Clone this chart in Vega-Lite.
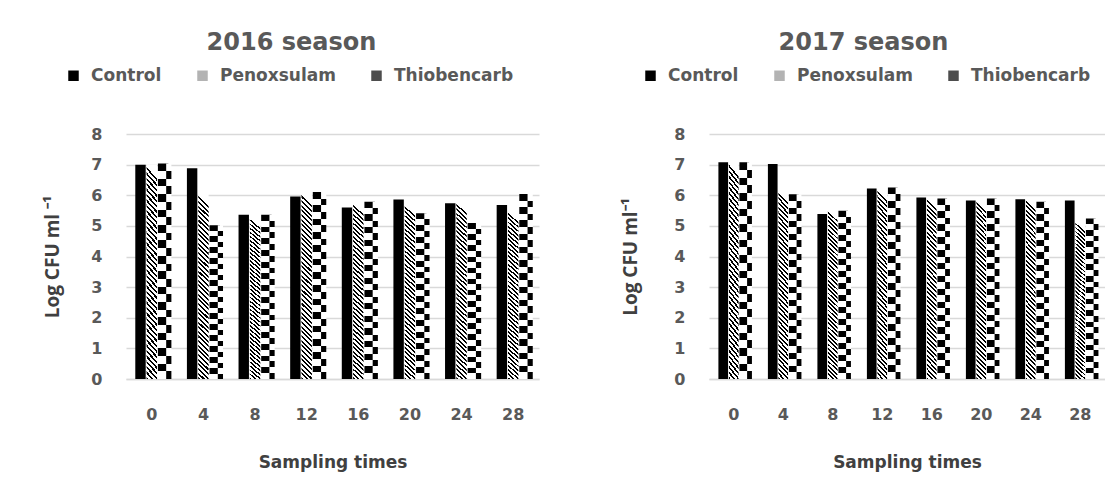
{
  "$schema": "https://vega.github.io/schema/vega-lite/v6.json",
  "padding": {"left": 43, "top": 31, "right": 0, "bottom": 12},
  "background": "white",
  "datasets": {
    "d": [
      {"season": 2016, "time": 0, "treatment": "Control", "value": 7.0},
      {"season": 2016, "time": 0, "treatment": "Penoxsulam", "value": 7.0},
      {"season": 2016, "time": 0, "treatment": "Thiobencarb", "value": 7.04},
      {"season": 2016, "time": 4, "treatment": "Control", "value": 6.88},
      {"season": 2016, "time": 4, "treatment": "Penoxsulam", "value": 6.04},
      {"season": 2016, "time": 4, "treatment": "Thiobencarb", "value": 5.02},
      {"season": 2016, "time": 8, "treatment": "Control", "value": 5.36},
      {"season": 2016, "time": 8, "treatment": "Penoxsulam", "value": 5.28},
      {"season": 2016, "time": 8, "treatment": "Thiobencarb", "value": 5.36},
      {"season": 2016, "time": 12, "treatment": "Control", "value": 5.96},
      {"season": 2016, "time": 12, "treatment": "Penoxsulam", "value": 6.06},
      {"season": 2016, "time": 12, "treatment": "Thiobencarb", "value": 6.11},
      {"season": 2016, "time": 16, "treatment": "Control", "value": 5.6},
      {"season": 2016, "time": 16, "treatment": "Penoxsulam", "value": 5.76},
      {"season": 2016, "time": 16, "treatment": "Thiobencarb", "value": 5.79},
      {"season": 2016, "time": 20, "treatment": "Control", "value": 5.86},
      {"season": 2016, "time": 20, "treatment": "Penoxsulam", "value": 5.71},
      {"season": 2016, "time": 20, "treatment": "Thiobencarb", "value": 5.41},
      {"season": 2016, "time": 24, "treatment": "Control", "value": 5.74},
      {"season": 2016, "time": 24, "treatment": "Penoxsulam", "value": 5.79},
      {"season": 2016, "time": 24, "treatment": "Thiobencarb", "value": 5.09},
      {"season": 2016, "time": 28, "treatment": "Control", "value": 5.68},
      {"season": 2016, "time": 28, "treatment": "Penoxsulam", "value": 5.49},
      {"season": 2016, "time": 28, "treatment": "Thiobencarb", "value": 6.04},
      {"season": 2017, "time": 0, "treatment": "Control", "value": 7.08},
      {"season": 2017, "time": 0, "treatment": "Penoxsulam", "value": 7.08},
      {"season": 2017, "time": 0, "treatment": "Thiobencarb", "value": 7.08},
      {"season": 2017, "time": 4, "treatment": "Control", "value": 7.02},
      {"season": 2017, "time": 4, "treatment": "Penoxsulam", "value": 6.16},
      {"season": 2017, "time": 4, "treatment": "Thiobencarb", "value": 6.03},
      {"season": 2017, "time": 8, "treatment": "Control", "value": 5.39},
      {"season": 2017, "time": 8, "treatment": "Penoxsulam", "value": 5.54},
      {"season": 2017, "time": 8, "treatment": "Thiobencarb", "value": 5.49},
      {"season": 2017, "time": 12, "treatment": "Control", "value": 6.22},
      {"season": 2017, "time": 12, "treatment": "Penoxsulam", "value": 6.22},
      {"season": 2017, "time": 12, "treatment": "Thiobencarb", "value": 6.25},
      {"season": 2017, "time": 16, "treatment": "Control", "value": 5.93},
      {"season": 2017, "time": 16, "treatment": "Penoxsulam", "value": 5.93},
      {"season": 2017, "time": 16, "treatment": "Thiobencarb", "value": 5.89},
      {"season": 2017, "time": 20, "treatment": "Control", "value": 5.83},
      {"season": 2017, "time": 20, "treatment": "Penoxsulam", "value": 5.85},
      {"season": 2017, "time": 20, "treatment": "Thiobencarb", "value": 5.89},
      {"season": 2017, "time": 24, "treatment": "Control", "value": 5.87},
      {"season": 2017, "time": 24, "treatment": "Penoxsulam", "value": 5.91},
      {"season": 2017, "time": 24, "treatment": "Thiobencarb", "value": 5.79},
      {"season": 2017, "time": 28, "treatment": "Control", "value": 5.83},
      {"season": 2017, "time": 28, "treatment": "Penoxsulam", "value": 5.16},
      {"season": 2017, "time": 28, "treatment": "Thiobencarb", "value": 5.24}
    ]
  },
  "spacing": 82,
  "resolve": {
    "scale": {"x": "independent", "y": "independent", "xOffset": "independent", "color": "independent"},
    "legend": {"color": "independent"}
  },
  "hconcat": [
    {
      "width": 413,
      "height": 245,
      "title": {"text": "2016 season", "frame": "bounds", "anchor": "middle", "offset": 12},
      "data": {"name": "d"},
      "transform": [{"filter": "datum.season === 2016"}],
      "encoding": {
        "x": {"field": "time", "type": "ordinal", "scale": {"paddingInner": 0.36, "paddingOuter": 0.18}, "axis": {"title": "Sampling times"}},
        "xOffset": {"field": "treatment", "type": "nominal", "scale": {"domain": ["Control", "Penoxsulam", "Thiobencarb"], "paddingInner": 0.08, "paddingOuter": 0}},
        "y": {"field": "value", "type": "quantitative", "scale": {"domain": [0, 8]}, "axis": {"title": "Log CFU  ml ⁻¹", "values": [0, 1, 2, 3, 4, 5, 6, 7, 8], "titlePadding": 28}}
      },
      "layer": [
        {
          "mark": {"type": "square", "opacity": 0},
          "encoding": {
            "color": {"field": "treatment", "type": "nominal", "scale": {"domain": ["Control", "Penoxsulam", "Thiobencarb"], "range": ["#000000", "#b3b3b3", "#4d4d4d"]},
              "legend": {"title": null, "orient": "none", "direction": "horizontal", "legendX": -61, "legendY": -67, "symbolOpacity": 1, "symbolType": "square", "symbolSize": 110, "columnPadding": 32, "labelOffset": 9}}
          }
        },
        {
          "mark": {"type": "bar"},
          "encoding": {
            "fill": {
              "condition": [
                {"test": "datum.treatment === 'Penoxsulam'", "value": {"gradient": "linear", "x1": 0.055, "y1": 0, "x2": 0, "y2": 1, "stops": [
                  {"offset": 0, "color": "#fff"}, {"offset": 0.014, "color": "#fff"}, {"offset": 0.014, "color": "#000"}, {"offset": 0.025, "color": "#000"},
                  {"offset": 0.025, "color": "#fff"}, {"offset": 0.039, "color": "#fff"}, {"offset": 0.039, "color": "#000"}, {"offset": 0.05, "color": "#000"},
                  {"offset": 0.05, "color": "#fff"}, {"offset": 0.064, "color": "#fff"}, {"offset": 0.064, "color": "#000"}, {"offset": 0.075, "color": "#000"},
                  {"offset": 0.075, "color": "#fff"}, {"offset": 0.089, "color": "#fff"}, {"offset": 0.089, "color": "#000"}, {"offset": 0.1, "color": "#000"},
                  {"offset": 0.1, "color": "#fff"}, {"offset": 0.114, "color": "#fff"}, {"offset": 0.114, "color": "#000"}, {"offset": 0.125, "color": "#000"},
                  {"offset": 0.125, "color": "#fff"}, {"offset": 0.139, "color": "#fff"}, {"offset": 0.139, "color": "#000"}, {"offset": 0.15, "color": "#000"},
                  {"offset": 0.15, "color": "#fff"}, {"offset": 0.164, "color": "#fff"}, {"offset": 0.164, "color": "#000"}, {"offset": 0.175, "color": "#000"},
                  {"offset": 0.175, "color": "#fff"}, {"offset": 0.189, "color": "#fff"}, {"offset": 0.189, "color": "#000"}, {"offset": 0.2, "color": "#000"},
                  {"offset": 0.2, "color": "#fff"}, {"offset": 0.214, "color": "#fff"}, {"offset": 0.214, "color": "#000"}, {"offset": 0.225, "color": "#000"},
                  {"offset": 0.225, "color": "#fff"}, {"offset": 0.239, "color": "#fff"}, {"offset": 0.239, "color": "#000"}, {"offset": 0.25, "color": "#000"},
                  {"offset": 0.25, "color": "#fff"}, {"offset": 0.264, "color": "#fff"}, {"offset": 0.264, "color": "#000"}, {"offset": 0.275, "color": "#000"},
                  {"offset": 0.275, "color": "#fff"}, {"offset": 0.289, "color": "#fff"}, {"offset": 0.289, "color": "#000"}, {"offset": 0.3, "color": "#000"},
                  {"offset": 0.3, "color": "#fff"}, {"offset": 0.314, "color": "#fff"}, {"offset": 0.314, "color": "#000"}, {"offset": 0.325, "color": "#000"},
                  {"offset": 0.325, "color": "#fff"}, {"offset": 0.339, "color": "#fff"}, {"offset": 0.339, "color": "#000"}, {"offset": 0.35, "color": "#000"},
                  {"offset": 0.35, "color": "#fff"}, {"offset": 0.364, "color": "#fff"}, {"offset": 0.364, "color": "#000"}, {"offset": 0.375, "color": "#000"},
                  {"offset": 0.375, "color": "#fff"}, {"offset": 0.389, "color": "#fff"}, {"offset": 0.389, "color": "#000"}, {"offset": 0.4, "color": "#000"},
                  {"offset": 0.4, "color": "#fff"}, {"offset": 0.414, "color": "#fff"}, {"offset": 0.414, "color": "#000"}, {"offset": 0.425, "color": "#000"},
                  {"offset": 0.425, "color": "#fff"}, {"offset": 0.439, "color": "#fff"}, {"offset": 0.439, "color": "#000"}, {"offset": 0.45, "color": "#000"},
                  {"offset": 0.45, "color": "#fff"}, {"offset": 0.464, "color": "#fff"}, {"offset": 0.464, "color": "#000"}, {"offset": 0.475, "color": "#000"},
                  {"offset": 0.475, "color": "#fff"}, {"offset": 0.489, "color": "#fff"}, {"offset": 0.489, "color": "#000"}, {"offset": 0.5, "color": "#000"},
                  {"offset": 0.5, "color": "#fff"}, {"offset": 0.514, "color": "#fff"}, {"offset": 0.514, "color": "#000"}, {"offset": 0.525, "color": "#000"},
                  {"offset": 0.525, "color": "#fff"}, {"offset": 0.539, "color": "#fff"}, {"offset": 0.539, "color": "#000"}, {"offset": 0.55, "color": "#000"},
                  {"offset": 0.55, "color": "#fff"}, {"offset": 0.564, "color": "#fff"}, {"offset": 0.564, "color": "#000"}, {"offset": 0.575, "color": "#000"},
                  {"offset": 0.575, "color": "#fff"}, {"offset": 0.589, "color": "#fff"}, {"offset": 0.589, "color": "#000"}, {"offset": 0.6, "color": "#000"},
                  {"offset": 0.6, "color": "#fff"}, {"offset": 0.614, "color": "#fff"}, {"offset": 0.614, "color": "#000"}, {"offset": 0.625, "color": "#000"},
                  {"offset": 0.625, "color": "#fff"}, {"offset": 0.639, "color": "#fff"}, {"offset": 0.639, "color": "#000"}, {"offset": 0.65, "color": "#000"},
                  {"offset": 0.65, "color": "#fff"}, {"offset": 0.664, "color": "#fff"}, {"offset": 0.664, "color": "#000"}, {"offset": 0.675, "color": "#000"},
                  {"offset": 0.675, "color": "#fff"}, {"offset": 0.689, "color": "#fff"}, {"offset": 0.689, "color": "#000"}, {"offset": 0.7, "color": "#000"},
                  {"offset": 0.7, "color": "#fff"}, {"offset": 0.714, "color": "#fff"}, {"offset": 0.714, "color": "#000"}, {"offset": 0.725, "color": "#000"},
                  {"offset": 0.725, "color": "#fff"}, {"offset": 0.739, "color": "#fff"}, {"offset": 0.739, "color": "#000"}, {"offset": 0.75, "color": "#000"},
                  {"offset": 0.75, "color": "#fff"}, {"offset": 0.764, "color": "#fff"}, {"offset": 0.764, "color": "#000"}, {"offset": 0.775, "color": "#000"},
                  {"offset": 0.775, "color": "#fff"}, {"offset": 0.789, "color": "#fff"}, {"offset": 0.789, "color": "#000"}, {"offset": 0.8, "color": "#000"},
                  {"offset": 0.8, "color": "#fff"}, {"offset": 0.814, "color": "#fff"}, {"offset": 0.814, "color": "#000"}, {"offset": 0.825, "color": "#000"},
                  {"offset": 0.825, "color": "#fff"}, {"offset": 0.839, "color": "#fff"}, {"offset": 0.839, "color": "#000"}, {"offset": 0.85, "color": "#000"},
                  {"offset": 0.85, "color": "#fff"}, {"offset": 0.864, "color": "#fff"}, {"offset": 0.864, "color": "#000"}, {"offset": 0.875, "color": "#000"},
                  {"offset": 0.875, "color": "#fff"}, {"offset": 0.889, "color": "#fff"}, {"offset": 0.889, "color": "#000"}, {"offset": 0.9, "color": "#000"},
                  {"offset": 0.9, "color": "#fff"}, {"offset": 0.914, "color": "#fff"}, {"offset": 0.914, "color": "#000"}, {"offset": 0.925, "color": "#000"},
                  {"offset": 0.925, "color": "#fff"}, {"offset": 0.939, "color": "#fff"}, {"offset": 0.939, "color": "#000"}, {"offset": 0.95, "color": "#000"},
                  {"offset": 0.95, "color": "#fff"}, {"offset": 0.964, "color": "#fff"}, {"offset": 0.964, "color": "#000"}, {"offset": 0.975, "color": "#000"},
                  {"offset": 0.975, "color": "#fff"}, {"offset": 0.989, "color": "#fff"}, {"offset": 0.989, "color": "#000"}, {"offset": 1, "color": "#000"}
                ]}},
                {"test": "datum.treatment === 'Thiobencarb'", "value": {"gradient": "linear", "x1": 0, "y1": 0, "x2": 0, "y2": 1, "stops": [
                  {"offset": 0, "color": "#000"}, {"offset": 0.0357, "color": "#000"}, {"offset": 0.0357, "color": "#fff"}, {"offset": 0.0714, "color": "#fff"},
                  {"offset": 0.0714, "color": "#000"}, {"offset": 0.1071, "color": "#000"}, {"offset": 0.1071, "color": "#fff"}, {"offset": 0.1429, "color": "#fff"},
                  {"offset": 0.1429, "color": "#000"}, {"offset": 0.1786, "color": "#000"}, {"offset": 0.1786, "color": "#fff"}, {"offset": 0.2143, "color": "#fff"},
                  {"offset": 0.2143, "color": "#000"}, {"offset": 0.25, "color": "#000"}, {"offset": 0.25, "color": "#fff"}, {"offset": 0.2857, "color": "#fff"},
                  {"offset": 0.2857, "color": "#000"}, {"offset": 0.3214, "color": "#000"}, {"offset": 0.3214, "color": "#fff"}, {"offset": 0.3571, "color": "#fff"},
                  {"offset": 0.3571, "color": "#000"}, {"offset": 0.3929, "color": "#000"}, {"offset": 0.3929, "color": "#fff"}, {"offset": 0.4286, "color": "#fff"},
                  {"offset": 0.4286, "color": "#000"}, {"offset": 0.4643, "color": "#000"}, {"offset": 0.4643, "color": "#fff"}, {"offset": 0.5, "color": "#fff"},
                  {"offset": 0.5, "color": "#000"}, {"offset": 0.5357, "color": "#000"}, {"offset": 0.5357, "color": "#fff"}, {"offset": 0.5714, "color": "#fff"},
                  {"offset": 0.5714, "color": "#000"}, {"offset": 0.6071, "color": "#000"}, {"offset": 0.6071, "color": "#fff"}, {"offset": 0.6429, "color": "#fff"},
                  {"offset": 0.6429, "color": "#000"}, {"offset": 0.6786, "color": "#000"}, {"offset": 0.6786, "color": "#fff"}, {"offset": 0.7143, "color": "#fff"},
                  {"offset": 0.7143, "color": "#000"}, {"offset": 0.75, "color": "#000"}, {"offset": 0.75, "color": "#fff"}, {"offset": 0.7857, "color": "#fff"},
                  {"offset": 0.7857, "color": "#000"}, {"offset": 0.8214, "color": "#000"}, {"offset": 0.8214, "color": "#fff"}, {"offset": 0.8571, "color": "#fff"},
                  {"offset": 0.8571, "color": "#000"}, {"offset": 0.8929, "color": "#000"}, {"offset": 0.8929, "color": "#fff"}, {"offset": 0.9286, "color": "#fff"},
                  {"offset": 0.9286, "color": "#000"}, {"offset": 0.9643, "color": "#000"}, {"offset": 0.9643, "color": "#fff"}, {"offset": 1, "color": "#fff"}
                ]}}
              ],
              "value": "#000000"
            }
          }
        },
        {
          "transform": [{"filter": "datum.treatment === 'Thiobencarb'"}],
          "mark": {"type": "bar", "width": {"band": 0.5}, "xOffset": 2.6},
          "encoding": {
            "fill": {"value": {"gradient": "linear", "x1": 0, "y1": 0, "x2": 0, "y2": 1, "stops": [
              {"offset": 0, "color": "#fff"}, {"offset": 0.0357, "color": "#fff"}, {"offset": 0.0357, "color": "#000"}, {"offset": 0.0714, "color": "#000"},
              {"offset": 0.0714, "color": "#fff"}, {"offset": 0.1071, "color": "#fff"}, {"offset": 0.1071, "color": "#000"}, {"offset": 0.1429, "color": "#000"},
              {"offset": 0.1429, "color": "#fff"}, {"offset": 0.1786, "color": "#fff"}, {"offset": 0.1786, "color": "#000"}, {"offset": 0.2143, "color": "#000"},
              {"offset": 0.2143, "color": "#fff"}, {"offset": 0.25, "color": "#fff"}, {"offset": 0.25, "color": "#000"}, {"offset": 0.2857, "color": "#000"},
              {"offset": 0.2857, "color": "#fff"}, {"offset": 0.3214, "color": "#fff"}, {"offset": 0.3214, "color": "#000"}, {"offset": 0.3571, "color": "#000"},
              {"offset": 0.3571, "color": "#fff"}, {"offset": 0.3929, "color": "#fff"}, {"offset": 0.3929, "color": "#000"}, {"offset": 0.4286, "color": "#000"},
              {"offset": 0.4286, "color": "#fff"}, {"offset": 0.4643, "color": "#fff"}, {"offset": 0.4643, "color": "#000"}, {"offset": 0.5, "color": "#000"},
              {"offset": 0.5, "color": "#fff"}, {"offset": 0.5357, "color": "#fff"}, {"offset": 0.5357, "color": "#000"}, {"offset": 0.5714, "color": "#000"},
              {"offset": 0.5714, "color": "#fff"}, {"offset": 0.6071, "color": "#fff"}, {"offset": 0.6071, "color": "#000"}, {"offset": 0.6429, "color": "#000"},
              {"offset": 0.6429, "color": "#fff"}, {"offset": 0.6786, "color": "#fff"}, {"offset": 0.6786, "color": "#000"}, {"offset": 0.7143, "color": "#000"},
              {"offset": 0.7143, "color": "#fff"}, {"offset": 0.75, "color": "#fff"}, {"offset": 0.75, "color": "#000"}, {"offset": 0.7857, "color": "#000"},
              {"offset": 0.7857, "color": "#fff"}, {"offset": 0.8214, "color": "#fff"}, {"offset": 0.8214, "color": "#000"}, {"offset": 0.8571, "color": "#000"},
              {"offset": 0.8571, "color": "#fff"}, {"offset": 0.8929, "color": "#fff"}, {"offset": 0.8929, "color": "#000"}, {"offset": 0.9286, "color": "#000"},
              {"offset": 0.9286, "color": "#fff"}, {"offset": 0.9643, "color": "#fff"}, {"offset": 0.9643, "color": "#000"}, {"offset": 1, "color": "#000"}
            ]}}
          }
        }
      ]
    },
    {
      "width": 396,
      "height": 245,
      "title": {"text": "2017 season", "frame": "bounds", "anchor": "middle", "offset": 12},
      "data": {"name": "d"},
      "transform": [{"filter": "datum.season === 2017"}],
      "encoding": {
        "x": {"field": "time", "type": "ordinal", "scale": {"paddingInner": 0.38, "paddingOuter": 0.19}, "axis": {"title": "Sampling times"}},
        "xOffset": {"field": "treatment", "type": "nominal", "scale": {"domain": ["Control", "Penoxsulam", "Thiobencarb"], "paddingInner": 0.08, "paddingOuter": 0}},
        "y": {"field": "value", "type": "quantitative", "scale": {"domain": [0, 8]}, "axis": {"title": "Log CFU ml⁻¹", "values": [0, 1, 2, 3, 4, 5, 6, 7, 8], "titlePadding": 33}}
      },
      "layer": [
        {
          "mark": {"type": "square", "opacity": 0},
          "encoding": {
            "color": {"field": "treatment", "type": "nominal", "scale": {"domain": ["Control", "Penoxsulam", "Thiobencarb"], "range": ["#000000", "#b3b3b3", "#4d4d4d"]},
              "legend": {"title": null, "orient": "none", "direction": "horizontal", "legendX": -67, "legendY": -67, "symbolOpacity": 1, "symbolType": "square", "symbolSize": 110, "columnPadding": 32, "labelOffset": 9}}
          }
        },
        {
          "mark": {"type": "bar"},
          "encoding": {
            "fill": {
              "condition": [
                {"test": "datum.treatment === 'Penoxsulam'", "value": {"gradient": "linear", "x1": 0.055, "y1": 0, "x2": 0, "y2": 1, "stops": [
                  {"offset": 0, "color": "#fff"}, {"offset": 0.014, "color": "#fff"}, {"offset": 0.014, "color": "#000"}, {"offset": 0.025, "color": "#000"},
                  {"offset": 0.025, "color": "#fff"}, {"offset": 0.039, "color": "#fff"}, {"offset": 0.039, "color": "#000"}, {"offset": 0.05, "color": "#000"},
                  {"offset": 0.05, "color": "#fff"}, {"offset": 0.064, "color": "#fff"}, {"offset": 0.064, "color": "#000"}, {"offset": 0.075, "color": "#000"},
                  {"offset": 0.075, "color": "#fff"}, {"offset": 0.089, "color": "#fff"}, {"offset": 0.089, "color": "#000"}, {"offset": 0.1, "color": "#000"},
                  {"offset": 0.1, "color": "#fff"}, {"offset": 0.114, "color": "#fff"}, {"offset": 0.114, "color": "#000"}, {"offset": 0.125, "color": "#000"},
                  {"offset": 0.125, "color": "#fff"}, {"offset": 0.139, "color": "#fff"}, {"offset": 0.139, "color": "#000"}, {"offset": 0.15, "color": "#000"},
                  {"offset": 0.15, "color": "#fff"}, {"offset": 0.164, "color": "#fff"}, {"offset": 0.164, "color": "#000"}, {"offset": 0.175, "color": "#000"},
                  {"offset": 0.175, "color": "#fff"}, {"offset": 0.189, "color": "#fff"}, {"offset": 0.189, "color": "#000"}, {"offset": 0.2, "color": "#000"},
                  {"offset": 0.2, "color": "#fff"}, {"offset": 0.214, "color": "#fff"}, {"offset": 0.214, "color": "#000"}, {"offset": 0.225, "color": "#000"},
                  {"offset": 0.225, "color": "#fff"}, {"offset": 0.239, "color": "#fff"}, {"offset": 0.239, "color": "#000"}, {"offset": 0.25, "color": "#000"},
                  {"offset": 0.25, "color": "#fff"}, {"offset": 0.264, "color": "#fff"}, {"offset": 0.264, "color": "#000"}, {"offset": 0.275, "color": "#000"},
                  {"offset": 0.275, "color": "#fff"}, {"offset": 0.289, "color": "#fff"}, {"offset": 0.289, "color": "#000"}, {"offset": 0.3, "color": "#000"},
                  {"offset": 0.3, "color": "#fff"}, {"offset": 0.314, "color": "#fff"}, {"offset": 0.314, "color": "#000"}, {"offset": 0.325, "color": "#000"},
                  {"offset": 0.325, "color": "#fff"}, {"offset": 0.339, "color": "#fff"}, {"offset": 0.339, "color": "#000"}, {"offset": 0.35, "color": "#000"},
                  {"offset": 0.35, "color": "#fff"}, {"offset": 0.364, "color": "#fff"}, {"offset": 0.364, "color": "#000"}, {"offset": 0.375, "color": "#000"},
                  {"offset": 0.375, "color": "#fff"}, {"offset": 0.389, "color": "#fff"}, {"offset": 0.389, "color": "#000"}, {"offset": 0.4, "color": "#000"},
                  {"offset": 0.4, "color": "#fff"}, {"offset": 0.414, "color": "#fff"}, {"offset": 0.414, "color": "#000"}, {"offset": 0.425, "color": "#000"},
                  {"offset": 0.425, "color": "#fff"}, {"offset": 0.439, "color": "#fff"}, {"offset": 0.439, "color": "#000"}, {"offset": 0.45, "color": "#000"},
                  {"offset": 0.45, "color": "#fff"}, {"offset": 0.464, "color": "#fff"}, {"offset": 0.464, "color": "#000"}, {"offset": 0.475, "color": "#000"},
                  {"offset": 0.475, "color": "#fff"}, {"offset": 0.489, "color": "#fff"}, {"offset": 0.489, "color": "#000"}, {"offset": 0.5, "color": "#000"},
                  {"offset": 0.5, "color": "#fff"}, {"offset": 0.514, "color": "#fff"}, {"offset": 0.514, "color": "#000"}, {"offset": 0.525, "color": "#000"},
                  {"offset": 0.525, "color": "#fff"}, {"offset": 0.539, "color": "#fff"}, {"offset": 0.539, "color": "#000"}, {"offset": 0.55, "color": "#000"},
                  {"offset": 0.55, "color": "#fff"}, {"offset": 0.564, "color": "#fff"}, {"offset": 0.564, "color": "#000"}, {"offset": 0.575, "color": "#000"},
                  {"offset": 0.575, "color": "#fff"}, {"offset": 0.589, "color": "#fff"}, {"offset": 0.589, "color": "#000"}, {"offset": 0.6, "color": "#000"},
                  {"offset": 0.6, "color": "#fff"}, {"offset": 0.614, "color": "#fff"}, {"offset": 0.614, "color": "#000"}, {"offset": 0.625, "color": "#000"},
                  {"offset": 0.625, "color": "#fff"}, {"offset": 0.639, "color": "#fff"}, {"offset": 0.639, "color": "#000"}, {"offset": 0.65, "color": "#000"},
                  {"offset": 0.65, "color": "#fff"}, {"offset": 0.664, "color": "#fff"}, {"offset": 0.664, "color": "#000"}, {"offset": 0.675, "color": "#000"},
                  {"offset": 0.675, "color": "#fff"}, {"offset": 0.689, "color": "#fff"}, {"offset": 0.689, "color": "#000"}, {"offset": 0.7, "color": "#000"},
                  {"offset": 0.7, "color": "#fff"}, {"offset": 0.714, "color": "#fff"}, {"offset": 0.714, "color": "#000"}, {"offset": 0.725, "color": "#000"},
                  {"offset": 0.725, "color": "#fff"}, {"offset": 0.739, "color": "#fff"}, {"offset": 0.739, "color": "#000"}, {"offset": 0.75, "color": "#000"},
                  {"offset": 0.75, "color": "#fff"}, {"offset": 0.764, "color": "#fff"}, {"offset": 0.764, "color": "#000"}, {"offset": 0.775, "color": "#000"},
                  {"offset": 0.775, "color": "#fff"}, {"offset": 0.789, "color": "#fff"}, {"offset": 0.789, "color": "#000"}, {"offset": 0.8, "color": "#000"},
                  {"offset": 0.8, "color": "#fff"}, {"offset": 0.814, "color": "#fff"}, {"offset": 0.814, "color": "#000"}, {"offset": 0.825, "color": "#000"},
                  {"offset": 0.825, "color": "#fff"}, {"offset": 0.839, "color": "#fff"}, {"offset": 0.839, "color": "#000"}, {"offset": 0.85, "color": "#000"},
                  {"offset": 0.85, "color": "#fff"}, {"offset": 0.864, "color": "#fff"}, {"offset": 0.864, "color": "#000"}, {"offset": 0.875, "color": "#000"},
                  {"offset": 0.875, "color": "#fff"}, {"offset": 0.889, "color": "#fff"}, {"offset": 0.889, "color": "#000"}, {"offset": 0.9, "color": "#000"},
                  {"offset": 0.9, "color": "#fff"}, {"offset": 0.914, "color": "#fff"}, {"offset": 0.914, "color": "#000"}, {"offset": 0.925, "color": "#000"},
                  {"offset": 0.925, "color": "#fff"}, {"offset": 0.939, "color": "#fff"}, {"offset": 0.939, "color": "#000"}, {"offset": 0.95, "color": "#000"},
                  {"offset": 0.95, "color": "#fff"}, {"offset": 0.964, "color": "#fff"}, {"offset": 0.964, "color": "#000"}, {"offset": 0.975, "color": "#000"},
                  {"offset": 0.975, "color": "#fff"}, {"offset": 0.989, "color": "#fff"}, {"offset": 0.989, "color": "#000"}, {"offset": 1, "color": "#000"}
                ]}},
                {"test": "datum.treatment === 'Thiobencarb'", "value": {"gradient": "linear", "x1": 0, "y1": 0, "x2": 0, "y2": 1, "stops": [
                  {"offset": 0, "color": "#000"}, {"offset": 0.0357, "color": "#000"}, {"offset": 0.0357, "color": "#fff"}, {"offset": 0.0714, "color": "#fff"},
                  {"offset": 0.0714, "color": "#000"}, {"offset": 0.1071, "color": "#000"}, {"offset": 0.1071, "color": "#fff"}, {"offset": 0.1429, "color": "#fff"},
                  {"offset": 0.1429, "color": "#000"}, {"offset": 0.1786, "color": "#000"}, {"offset": 0.1786, "color": "#fff"}, {"offset": 0.2143, "color": "#fff"},
                  {"offset": 0.2143, "color": "#000"}, {"offset": 0.25, "color": "#000"}, {"offset": 0.25, "color": "#fff"}, {"offset": 0.2857, "color": "#fff"},
                  {"offset": 0.2857, "color": "#000"}, {"offset": 0.3214, "color": "#000"}, {"offset": 0.3214, "color": "#fff"}, {"offset": 0.3571, "color": "#fff"},
                  {"offset": 0.3571, "color": "#000"}, {"offset": 0.3929, "color": "#000"}, {"offset": 0.3929, "color": "#fff"}, {"offset": 0.4286, "color": "#fff"},
                  {"offset": 0.4286, "color": "#000"}, {"offset": 0.4643, "color": "#000"}, {"offset": 0.4643, "color": "#fff"}, {"offset": 0.5, "color": "#fff"},
                  {"offset": 0.5, "color": "#000"}, {"offset": 0.5357, "color": "#000"}, {"offset": 0.5357, "color": "#fff"}, {"offset": 0.5714, "color": "#fff"},
                  {"offset": 0.5714, "color": "#000"}, {"offset": 0.6071, "color": "#000"}, {"offset": 0.6071, "color": "#fff"}, {"offset": 0.6429, "color": "#fff"},
                  {"offset": 0.6429, "color": "#000"}, {"offset": 0.6786, "color": "#000"}, {"offset": 0.6786, "color": "#fff"}, {"offset": 0.7143, "color": "#fff"},
                  {"offset": 0.7143, "color": "#000"}, {"offset": 0.75, "color": "#000"}, {"offset": 0.75, "color": "#fff"}, {"offset": 0.7857, "color": "#fff"},
                  {"offset": 0.7857, "color": "#000"}, {"offset": 0.8214, "color": "#000"}, {"offset": 0.8214, "color": "#fff"}, {"offset": 0.8571, "color": "#fff"},
                  {"offset": 0.8571, "color": "#000"}, {"offset": 0.8929, "color": "#000"}, {"offset": 0.8929, "color": "#fff"}, {"offset": 0.9286, "color": "#fff"},
                  {"offset": 0.9286, "color": "#000"}, {"offset": 0.9643, "color": "#000"}, {"offset": 0.9643, "color": "#fff"}, {"offset": 1, "color": "#fff"}
                ]}}
              ],
              "value": "#000000"
            }
          }
        },
        {
          "transform": [{"filter": "datum.treatment === 'Thiobencarb'"}],
          "mark": {"type": "bar", "width": {"band": 0.5}, "xOffset": 2.4},
          "encoding": {
            "fill": {"value": {"gradient": "linear", "x1": 0, "y1": 0, "x2": 0, "y2": 1, "stops": [
              {"offset": 0, "color": "#fff"}, {"offset": 0.0357, "color": "#fff"}, {"offset": 0.0357, "color": "#000"}, {"offset": 0.0714, "color": "#000"},
              {"offset": 0.0714, "color": "#fff"}, {"offset": 0.1071, "color": "#fff"}, {"offset": 0.1071, "color": "#000"}, {"offset": 0.1429, "color": "#000"},
              {"offset": 0.1429, "color": "#fff"}, {"offset": 0.1786, "color": "#fff"}, {"offset": 0.1786, "color": "#000"}, {"offset": 0.2143, "color": "#000"},
              {"offset": 0.2143, "color": "#fff"}, {"offset": 0.25, "color": "#fff"}, {"offset": 0.25, "color": "#000"}, {"offset": 0.2857, "color": "#000"},
              {"offset": 0.2857, "color": "#fff"}, {"offset": 0.3214, "color": "#fff"}, {"offset": 0.3214, "color": "#000"}, {"offset": 0.3571, "color": "#000"},
              {"offset": 0.3571, "color": "#fff"}, {"offset": 0.3929, "color": "#fff"}, {"offset": 0.3929, "color": "#000"}, {"offset": 0.4286, "color": "#000"},
              {"offset": 0.4286, "color": "#fff"}, {"offset": 0.4643, "color": "#fff"}, {"offset": 0.4643, "color": "#000"}, {"offset": 0.5, "color": "#000"},
              {"offset": 0.5, "color": "#fff"}, {"offset": 0.5357, "color": "#fff"}, {"offset": 0.5357, "color": "#000"}, {"offset": 0.5714, "color": "#000"},
              {"offset": 0.5714, "color": "#fff"}, {"offset": 0.6071, "color": "#fff"}, {"offset": 0.6071, "color": "#000"}, {"offset": 0.6429, "color": "#000"},
              {"offset": 0.6429, "color": "#fff"}, {"offset": 0.6786, "color": "#fff"}, {"offset": 0.6786, "color": "#000"}, {"offset": 0.7143, "color": "#000"},
              {"offset": 0.7143, "color": "#fff"}, {"offset": 0.75, "color": "#fff"}, {"offset": 0.75, "color": "#000"}, {"offset": 0.7857, "color": "#000"},
              {"offset": 0.7857, "color": "#fff"}, {"offset": 0.8214, "color": "#fff"}, {"offset": 0.8214, "color": "#000"}, {"offset": 0.8571, "color": "#000"},
              {"offset": 0.8571, "color": "#fff"}, {"offset": 0.8929, "color": "#fff"}, {"offset": 0.8929, "color": "#000"}, {"offset": 0.9286, "color": "#000"},
              {"offset": 0.9286, "color": "#fff"}, {"offset": 0.9643, "color": "#fff"}, {"offset": 0.9643, "color": "#000"}, {"offset": 1, "color": "#000"}
            ]}}
          }
        }
      ]
    }
  ],
  "config": {
    "view": {"stroke": null},
    "font": "DejaVu Sans",
    "title": {"font": "DejaVu Sans", "fontSize": 24, "fontWeight": "bold", "color": "#595959"},
    "axis": {
      "labelFont": "DejaVu Sans", "labelFontSize": 16, "labelFontWeight": "bold", "labelColor": "#595959",
      "titleFont": "DejaVu Sans", "titleFontWeight": "bold", "titleColor": "#404040",
      "ticks": false, "gridColor": "#d9d9d9", "gridWidth": 1.3, "domainColor": "#d9d9d9", "domainWidth": 1.5
    },
    "axisX": {"labelAngle": 0, "labelPadding": 27, "titleFontSize": 17, "titlePadding": 32, "grid": false},
    "axisY": {"domain": false, "labelPadding": 24, "titleFontSize": 19, "titleFont": "Open Sans"},
    "legend": {"labelFont": "DejaVu Sans", "labelFontSize": 17, "labelFontWeight": "bold", "labelColor": "#595959"}
  }
}
